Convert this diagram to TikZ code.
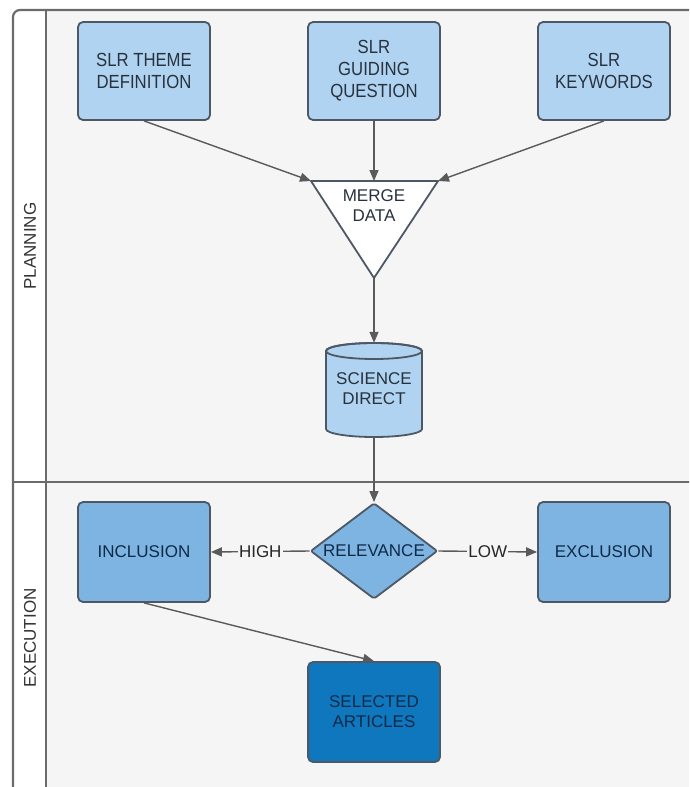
\documentclass[tikz,border=0pt]{standalone}
\usepackage{fontspec}
\setmainfont{Liberation Sans}
\newfontfamily\slrfont[FakeStretch=0.88]{Liberation Sans}
\usetikzlibrary{shapes.geometric,arrows.meta}
\definecolor{lanebg}{HTML}{F5F5F5}
\definecolor{laneline}{HTML}{6B6B6B}
\definecolor{lightblue}{HTML}{AFD3F0}
\definecolor{midblue}{HTML}{7DB4E2}
\definecolor{darkblue}{HTML}{0F77BE}
\definecolor{boxline}{HTML}{4E5864}
\definecolor{arrowc}{HTML}{5A5A5A}
\definecolor{txt}{HTML}{28323E}
\definecolor{navy}{HTML}{0F2A48}
\begin{document}
\begin{tikzpicture}[x=1pt,y=-1pt,
  box/.style={draw=boxline, line width=1.8pt, rounded corners=5pt,
    minimum width=132pt, minimum height=98pt, inner sep=0pt, align=center, text=txt},
  slrbox/.style={box, fill=lightblue, font=\slrfont\fontsize{19}{22}\selectfont},
  midbox/.style={box, fill=midblue, minimum height=100pt,
    font=\fontsize{17}{20}\selectfont, text=navy},
  selbox/.style={box, fill=darkblue, minimum height=100pt,
    font=\fontsize{17}{20}\selectfont, text=navy},
  shapeline/.style={draw=boxline, line width=1.8pt, line join=round},
  txtnode/.style={font=\fontsize{17}{20}\selectfont, align=center, text=txt, inner sep=0pt},
  lanelbl/.style={rotate=90, font=\fontsize{17}{20}\selectfont, text=black!80},
  arr/.style={draw=arrowc, line width=1.4pt, -{Triangle[length=11pt,width=9pt]}},
  lbl/.style={fill=lanebg, inner sep=1pt, font=\fontsize{17}{20}\selectfont, text=black!85},
  laneframe/.style={draw=laneline, line width=2.2pt}
]
\useasboundingbox (0,0) rectangle (689,787);
\clip (0,0) rectangle (689,787);
\fill[white] (0,0) rectangle (689,787);

% swimlanes
\fill[lanebg] (46,10) rectangle (700,800);
\draw[laneframe, rounded corners=7pt] (13,800) -- (13,10) -- (700,10);
\draw[laneframe] (46,10) -- (46,800);
\draw[laneframe] (13,482) -- (700,482);
\node[lanelbl] (plan) at (30,246) {PLANNING};
\node[lanelbl] (exec) at (30,638) {EXECUTION};

% top boxes
\node[slrbox] (theme) at (144,71) {SLR THEME\\DEFINITION};
\node[slrbox] (question) at (374,71) {SLR\\GUIDING\\QUESTION};
\node[slrbox] (keywords) at (604,71) {SLR\\KEYWORDS};

% merge triangle
\coordinate (mtl) at (311,181);
\coordinate (mtop) at (374,181);
\coordinate (mtr) at (438,181);
\coordinate (mbot) at (374,278);
\draw[shapeline, fill=white] (mtl) -- (mtr) -- (mbot) -- cycle;
\node[txtnode] (merge) at (374,206) {MERGE\\DATA};

\draw[arr] (theme.south) -- (mtl);
\draw[arr] (question.south) -- (mtop);
\draw[arr] (keywords.south) -- (mtr);

% cylinder
\draw[shapeline, fill=lightblue] (326,351) -- (326,429)
  arc[start angle=180, end angle=360, x radius=48pt, y radius=8pt] -- (422,351)
  arc[start angle=0, end angle=180, x radius=48pt, y radius=8pt] -- cycle;
\draw[shapeline] (374,351) ellipse[x radius=48pt, y radius=8pt];
\node[txtnode, minimum width=96pt, minimum height=94pt] (sci) at (374,390)
  {\raisebox{-8pt}{\begin{tabular}{@{}c@{}}SCIENCE\\DIRECT\end{tabular}}};

\draw[arr] (mbot) -- (sci.north);

% execution lane
\node[diamond, shapeline, fill=midblue, minimum width=127pt, minimum height=96pt,
  inner sep=0pt, rounded corners=2pt, font=\fontsize{17}{20}\selectfont, text=navy]
  (rel) at (374,551) {\makebox[0pt]{RELEVANCE}};
\node[midbox] (inc) at (144,552) {INCLUSION};
\node[midbox] (exc) at (604,552) {EXCLUSION};
\node[selbox] (sel) at (374,712) {SELECTED\\ARTICLES};

\draw[arr] (sci.south) -- (rel.north);
\draw[arr] (rel.west) -- node[lbl] {HIGH} (inc.east);
\draw[arr] (rel.east) -- node[lbl] {LOW} (exc.west);
\draw[arr] (inc.south) -- (sel.north);
\end{tikzpicture}
\end{document}
